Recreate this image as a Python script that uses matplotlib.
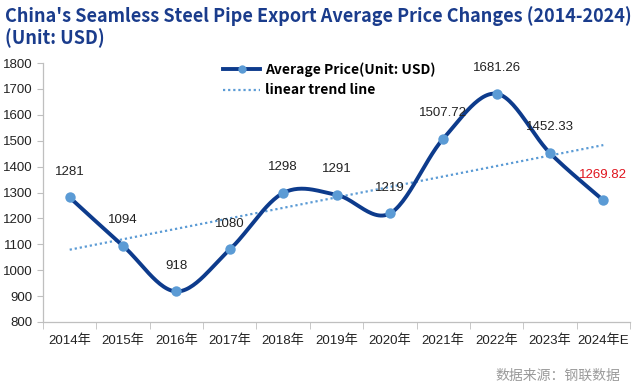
import matplotlib
matplotlib.use("Agg")
import matplotlib.pyplot as plt
import numpy as np
from matplotlib import font_manager

years = ["2014年", "2015年", "2016年", "2017年", "2018年", "2019年",
         "2020年", "2021年", "2022年", "2023年", "2024年E"]
prices = [1281, 1094, 918, 1080, 1298, 1291, 1219, 1507.72, 1681.26, 1452.33, 1269.82]
price_labels = ["1281", "1094", "918", "1080", "1298", "1291", "1219",
                "1507.72", "1681.26", "1452.33", "1269.82"]

names = {f.name for f in font_manager.fontManager.ttflist}
narrow = "Liberation Sans Narrow" if "Liberation Sans Narrow" in names else "Liberation Sans"
num_font = [narrow, "Noto Sans CJK SC"]

NAVY = "#0d3b8c"
LIGHT = "#5b9bd5"


def smooth(xs, ys, n=30, t=0.5):
    # Catmull-Rom style bezier smoothing, like a spreadsheet "smoothed line"
    xs = np.asarray(xs, float)
    ys = np.asarray(ys, float)
    px, py = [], []
    for i in range(len(xs) - 1):
        i0 = max(i - 1, 0)
        i3 = min(i + 2, len(xs) - 1)
        p0 = np.array([xs[i], ys[i]])
        p1 = np.array([xs[i + 1], ys[i + 1]])
        c1 = p0 + (np.array([xs[i + 1], ys[i + 1]]) - np.array([xs[i0], ys[i0]])) * t / 3
        c2 = p1 - (np.array([xs[i3], ys[i3]]) - np.array([xs[i], ys[i]])) * t / 3
        s = np.linspace(0, 1, n)[:, None]
        pts = ((1 - s) ** 3) * p0 + 3 * ((1 - s) ** 2) * s * c1 + 3 * (1 - s) * s ** 2 * c2 + s ** 3 * p1
        px.extend(pts[:, 0])
        py.extend(pts[:, 1])
    return np.array(px), np.array(py)


x = np.arange(len(years))
fig = plt.figure(figsize=(6.39, 3.90), dpi=100)
ax = fig.add_axes([43 / 639, 68 / 390, 587 / 639, 259 / 390])

sx, sy = smooth(x, prices)
ax.plot(sx, sy, color=NAVY, lw=2.8, solid_capstyle="round", zorder=3)
ax.plot(x, prices, "o", color=LIGHT, ms=7.5, mec="none", zorder=4)

# linear trend line
k, b = np.polyfit(x, prices, 1)
ax.plot(x, k * x + b, color=LIGHT, lw=1.6, ls=(0, (1, 1.3)), zorder=2)

for xi, v, lab in zip(x, prices, price_labels):
    col = "#e0141e" if lab == "1269.82" else "#222222"
    ax.annotate(lab, (xi, v), xytext=(0, 18.5), textcoords="offset points",
                ha="center", va="center", fontsize=9.5, color=col, family=num_font)

ax.set_xlim(-0.5, len(years) - 0.5)
ax.set_ylim(800, 1800)
ax.set_yticks(range(800, 1801, 100))
ax.set_xticks(x)
ax.set_xticklabels(years, family=num_font, fontsize=9.5, color="#222222")
ax.set_xticks(np.arange(-0.5, len(years), 1), minor=True)
ax.tick_params(axis="x", which="major", length=0, pad=9)
ax.tick_params(axis="x", which="minor", length=5, color="#bfbfbf", direction="out")
ax.tick_params(axis="y", length=4, color="#bfbfbf", labelsize=9.5, labelcolor="#222222")
for lab in ax.get_yticklabels():
    lab.set_family(num_font)
for s in ["top", "right"]:
    ax.spines[s].set_visible(False)
for s in ["left", "bottom"]:
    ax.spines[s].set_color("#bfbfbf")
    ax.spines[s].set_linewidth(0.9)

# legend drawn by hand in axes coordinates
lx0, lx1 = 0.307, 0.37
ax.plot([lx0, lx1], [0.975, 0.975], transform=ax.transAxes, color=NAVY, lw=2.8, clip_on=False)
ax.plot([(lx0 + lx1) / 2], [0.975], "o", transform=ax.transAxes, color=LIGHT, ms=6, mec="none", clip_on=False)
ax.text(lx1 + 0.008, 0.975, "Average Price(Unit: USD)", transform=ax.transAxes,
        va="center", fontsize=10, fontweight="bold", family=["Noto Sans CJK SC"])
ax.plot([lx0, lx1], [0.895, 0.895], transform=ax.transAxes, color=LIGHT, lw=1.6,
        ls=(0, (1, 1.3)), clip_on=False)
ax.text(lx1 + 0.008, 0.895, "linear trend line", transform=ax.transAxes,
        va="center", fontsize=10, fontweight="bold", family=["Noto Sans CJK SC"])

fig.text(5 / 639, 1 - 16 / 390, "China's Seamless Steel Pipe Export Average Price Changes (2014-2024)",
         fontsize=13, fontweight="bold", color="#1a3c8c", va="center", family=["Noto Sans CJK SC"])
fig.text(5 / 639, 1 - 38 / 390, "(Unit: USD)",
         fontsize=13, fontweight="bold", color="#1a3c8c", va="center", family=["Noto Sans CJK SC"])
fig.text(620 / 639, 1 - 376 / 390, "数据来源：钢联数据", ha="right", va="center",
         fontsize=10, color="#9a9a9a", family=["Noto Sans CJK SC"])

fig.savefig("out.png", dpi=100)
